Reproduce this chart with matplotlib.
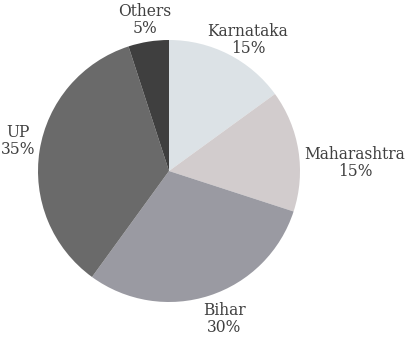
import matplotlib.pyplot as plt

states = ['Karnataka', 'Maharashtra', 'Bihar', 'UP', 'Others']
shares = [15, 15, 30, 35, 5]
colors = ['#dce2e6', '#d2cccd', '#9a9aa2', '#6a6a6a', '#3f3f3f']

# label centres in pixels (x from left, y from top)
label_px = [(248, 40), (355, 163), (224, 319), (18, 141), (145, 20)]

W, H = 411, 345
cx, cy, r = 169, 171, 131


def main():
	fig = plt.figure(figsize=(W / 100, H / 100), dpi=100)
	ax = fig.add_axes([0, 0, 1, 1])
	ax.pie(shares, colors=colors, startangle=90, counterclock=False,
		radius=1, wedgeprops={'linewidth': 0})
	ax.set_aspect('auto')
	ax.set_xlim(-cx / r, (W - cx) / r)
	ax.set_ylim(-(H - cy) / r, cy / r)
	ax.axis('off')

	for name, val, (px, py) in zip(states, shares, label_px):
		ax.text((px - cx) / r, (cy - py) / r, str.format("{}\n{}%", name, val),
			ha='center', va='center', fontsize=11.2, family='DejaVu Serif',
			color='#404040', linespacing=1.05)

	fig.savefig('out.png', dpi=100)


if __name__ == "__main__":
	main()
